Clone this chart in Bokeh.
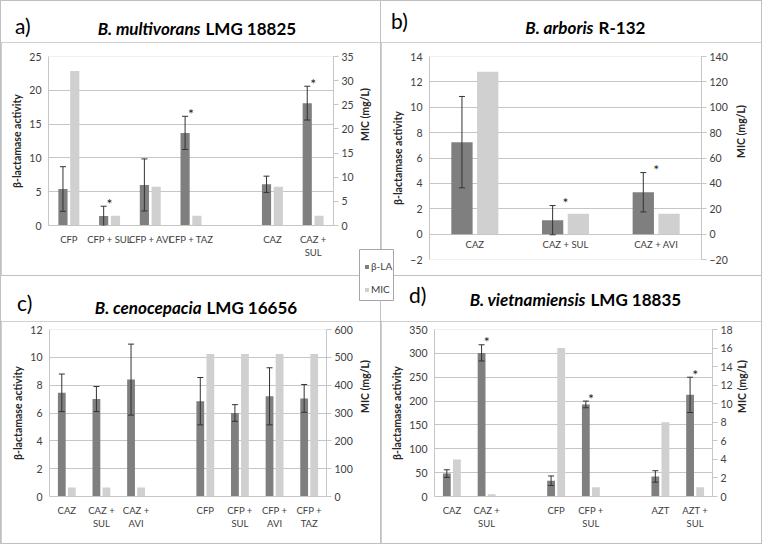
import math
from bokeh.plotting import figure
from bokeh.models import (ColumnDataSource, FactorRange, Range1d, LinearAxis, Div,
                          SingleIntervalTicker, Whisker, TeeHead, Legend, LegendItem)
from bokeh.transform import dodge
from bokeh.layouts import row, column
from bokeh.core.properties import value
from bokeh.embed import file_html
from bokeh.resources import INLINE

# ---------------- data ----------------
A_CATS = ["CFP", "CFP + SUL", "CFP + AVI", "CFP + TAZ", " ", "CAZ", "CAZ +\nSUL"]
A_BLA = [5.4, 1.4, 6.0, 13.7, None, 6.1, 18.1]
A_SD = [3.3, 1.45, 3.85, 2.45, None, 1.2, 2.5]
A_MIC = [32, 2, 8, 2, None, 8, 2]
A_SIG = [False, True, False, True, False, False, True]

B_CATS = ["CAZ", "CAZ + SUL", "CAZ + AVI"]
B_BLA = [7.25, 1.1, 3.3]
B_SD = [3.6, 1.15, 1.55]
B_MIC = [128, 16, 16]
B_SIG = [False, True, True]

C_CATS = ["CAZ", "CAZ +\nSUL", "CAZ +\nAVI", " ", "CFP", "CFP +\nSUL", "CFP +\nAVI", "CFP +\nTAZ"]
C_BLA = [7.45, 7.0, 8.4, None, 6.85, 6.0, 7.2, 7.05]
C_SD = [1.35, 0.9, 2.55, None, 1.7, 0.6, 2.05, 1.0]
C_MIC = [32, 32, 32, None, 512, 512, 512, 512]
C_SIG = [False] * 8

D_CATS = ["CAZ", "CAZ +\nSUL", " ", "CFP", "CFP +\nSUL", "  ", "AZT", "AZT +\nSUL"]
D_BLA = [48, 301, None, 33, 193, None, 42, 213]
D_SD = [8, 17, None, 10, 7, None, 12, 37]
D_MIC = [4, 0.25, None, 16, 1, None, 8, 1]
D_SIG = [False, True, False, False, True, False, False, True]

SERIES = ["β-LA", "MIC"]
Y_LEFT_LABEL = "β-lactamase activity"
Y_RIGHT_LABEL = "MIC (mg/L)"

# ---------------- style ----------------
FONT = "Lato"
DARK = "#7f7f7f"
LIGHT = "#d0d0d0"
GRID = "#c6c6c6"
TXT = "#404040"
ERR = "#333333"


def header(width, height, letter, letter_x, letter_y, species, strain, split_x, title_y):
    html = (
        f'<div style="position:relative;width:{width}px;height:{height}px;'
        f'font-family:{FONT};color:#000;background:#fff;">'
        f'<span style="position:absolute;left:{letter_x}px;top:{letter_y - 13}px;'
        f'line-height:26px;font-size:21px;white-space:nowrap;">{letter}</span>'
        f'<span style="position:absolute;right:{width - split_x + 2.5}px;top:{title_y - 11}px;'
        f'line-height:22px;font-size:17px;font-weight:bold;font-style:italic;'
        f'white-space:nowrap;">{species}</span>'
        f'<span style="position:absolute;left:{split_x + 2.5}px;top:{title_y - 11}px;'
        f'line-height:22px;font-size:17px;font-weight:bold;white-space:nowrap;">{strain}</span>'
        f'</div>'
    )
    return Div(text=html, width=width, height=height, margin=0,
               styles={"background-color": "white"})


def build_panel(cats, bla, sd, mic, sig, *, letter, species, strain,
                y_left, left_step, y_right, right_step, width, height, head_h, borders,
                split_x, title_y, letter_x, letter_y, right_standoff,
                labels_at_zero=False, bar_w=0.225, offset=0.145):
    bl, br, bt, bb = borders
    p = figure(width=width, height=height - head_h, x_range=FactorRange(factors=cats),
               y_range=Range1d(*y_left), output_backend="svg", toolbar_location=None,
               tools="", min_border_left=bl, min_border_right=br,
               min_border_top=bt - head_h, min_border_bottom=bb)
    p.outline_line_color = None
    p.xgrid.visible = False

    la = p.left[0]
    la.ticker = SingleIntervalTicker(interval=left_step, num_minor_ticks=0)
    la.axis_label = Y_LEFT_LABEL
    la.axis_label_text_font = FONT
    la.axis_label_text_font_style = "bold"
    la.axis_label_text_font_size = "10.5px"
    la.axis_label_text_color = "#262626"
    la.axis_label_standoff = 3
    la.major_label_standoff = 7
    la.major_tick_out = 0
    la.major_tick_in = 0
    la.minor_tick_out = 0
    la.minor_tick_in = 0
    la.major_label_text_font = FONT
    la.major_label_text_font_size = "10.5px"
    la.major_label_text_color = TXT
    la.axis_line_color = GRID
    p.ygrid.ticker = la.ticker
    p.ygrid.grid_line_color = GRID

    xa = p.below[0]
    xa.major_tick_line_color = None
    xa.major_tick_out = 0
    xa.major_tick_in = 0
    xa.axis_line_color = GRID
    xa.major_label_standoff = 8
    xa.major_label_text_font = FONT
    xa.major_label_text_font_size = "9.5px"
    xa.major_label_text_color = TXT
    if labels_at_zero:
        xa.visible = False

    p.extra_y_ranges = {"mic": Range1d(*y_right)}
    ra = LinearAxis(y_range_name="mic",
                    ticker=SingleIntervalTicker(interval=right_step, num_minor_ticks=0),
                    axis_label=Y_RIGHT_LABEL)
    ra.axis_label_orientation = math.pi / 2
    ra.axis_label_text_font = FONT
    ra.axis_label_text_font_style = "bold"
    ra.axis_label_text_font_size = "10.5px"
    ra.axis_label_text_color = "#262626"
    ra.axis_label_standoff = right_standoff
    ra.major_label_standoff = 3
    ra.major_tick_out = 5
    ra.major_tick_in = 0
    ra.minor_tick_out = 0
    ra.minor_tick_in = 0
    ra.major_tick_line_color = GRID
    ra.axis_line_color = GRID
    ra.major_label_text_font = FONT
    ra.major_label_text_font_size = "10.5px"
    ra.major_label_text_color = TXT
    p.add_layout(ra, "right")

    keep = [i for i, v in enumerate(bla) if v is not None]
    src = ColumnDataSource(dict(
        cat=[cats[i] for i in keep],
        bla=[bla[i] for i in keep],
        lo=[bla[i] - sd[i] for i in keep],
        hi=[bla[i] + sd[i] for i in keep],
        mic=[mic[i] for i in keep],
    ))
    p.vbar(x=dodge("cat", -offset, range=p.x_range), top="bla", width=bar_w,
           source=src, fill_color=DARK, line_color=None)
    p.vbar(x=dodge("cat", offset, range=p.x_range), top="mic", width=bar_w,
           source=src, fill_color=LIGHT, line_color=None, y_range_name="mic")
    wk = Whisker(source=src, base=dodge("cat", -offset, range=p.x_range),
                 upper="hi", lower="lo", line_color=ERR, line_width=1, level="overlay",
                 upper_head=TeeHead(size=6, line_color=ERR, line_width=1),
                 lower_head=TeeHead(size=6, line_color=ERR, line_width=1))
    p.add_layout(wk)

    sidx = [i for i in keep if sig[i]]
    if sidx:
        ssrc = ColumnDataSource(dict(cat=[cats[i] for i in sidx],
                                     y=[bla[i] + sd[i] for i in sidx]))
        p.text(x="cat", y="y", text=value("*"), source=ssrc, text_align="center",
               text_baseline="alphabetic", y_offset=-3, text_font=value(FONT),
               text_font_size=value("14px"), text_color="#1a1a1a")

    if labels_at_zero:
        p.text(x="cat", y=0, text="cat", source=src, text_align="center",
               text_baseline="top", y_offset=5, text_font=value(FONT),
               text_font_size=value("9.5px"), text_color=TXT)

    head = header(width, head_h, letter, letter_x, letter_y, species, strain, split_x, title_y)
    return column(head, p, spacing=0)


pa = build_panel(A_CATS, A_BLA, A_SD, A_MIC, A_SIG, letter="a)",
                 species="B. multivorans", strain="LMG 18825",
                 y_left=(0, 25), left_step=5, y_right=(0, 35), right_step=5,
                 width=379, height=274, head_h=41, borders=(47, 47, 55, 50),
                 split_x=202, title_y=28, letter_x=14, letter_y=25,
                 right_standoff=8)
pb = build_panel(B_CATS, B_BLA, B_SD, B_MIC, B_SIG, letter="b)",
                 species="B. arboris", strain="R-132",
                 y_left=(-2, 14), left_step=2, y_right=(-20, 140), right_step=20,
                 width=380, height=274, head_h=41, borders=(48, 60, 55, 16),
                 split_x=215, title_y=27, letter_x=10, letter_y=20,
                 right_standoff=10, labels_at_zero=True, bar_w=0.235, offset=0.142)
pc = build_panel(C_CATS, C_BLA, C_SD, C_MIC, C_SIG, letter="c)",
                 species="B. cenocepacia", strain="LMG 16656",
                 y_left=(0, 12), left_step=2, y_right=(0, 600), right_step=100,
                 width=379, height=267, head_h=45, borders=(48, 54, 53, 47),
                 split_x=203, title_y=32, letter_x=16, letter_y=27,
                 right_standoff=9)
pd_ = build_panel(D_CATS, D_BLA, D_SD, D_MIC, D_SIG, letter="d)",
                  species="B. vietnamiensis", strain="LMG 18835",
                  y_left=(0, 350), left_step=50, y_right=(0, 18), right_step=2,
                  width=380, height=267, head_h=45, borders=(53, 49, 53, 47),
                  split_x=207, title_y=24, letter_x=28, letter_y=19,
                  right_standoff=6)

# ---------------- shared legend box ----------------
lg = figure(width=35, height=52, x_range=Range1d(0, 1), y_range=Range1d(0, 1),
            output_backend="svg", toolbar_location=None, tools="", min_border=0,
            styles={"position": "absolute", "left": "359px", "top": "249px", "z-index": "10"})
lg.axis.visible = False
lg.grid.visible = False
lg.outline_line_color = "#a6a6a6"
r1 = lg.vbar(x=[0.5], top=[0], width=0, fill_color=DARK, line_color=None)
r2 = lg.vbar(x=[0.5], top=[0], width=0, fill_color=LIGHT, line_color=None)
legend = Legend(items=[LegendItem(label=SERIES[0], renderers=[r1]),
                       LegendItem(label=SERIES[1], renderers=[r2])],
                location=(5, 6), orientation="vertical", border_line_color=None,
                background_fill_alpha=0, padding=0, margin=0, spacing=11,
                glyph_width=5, glyph_height=5, label_height=10, label_width=10,
                label_standoff=2, label_text_font=FONT, label_text_font_size="10px",
                label_text_color=TXT)
lg.add_layout(legend)

root = column(row(pa, pb, spacing=1), row(pc, pd_, spacing=1), lg, spacing=1,
              styles={"position": "relative", "background-color": "#c0c0c0", "padding": "1px"})

open("out.html", "w").write(file_html(root, INLINE))
